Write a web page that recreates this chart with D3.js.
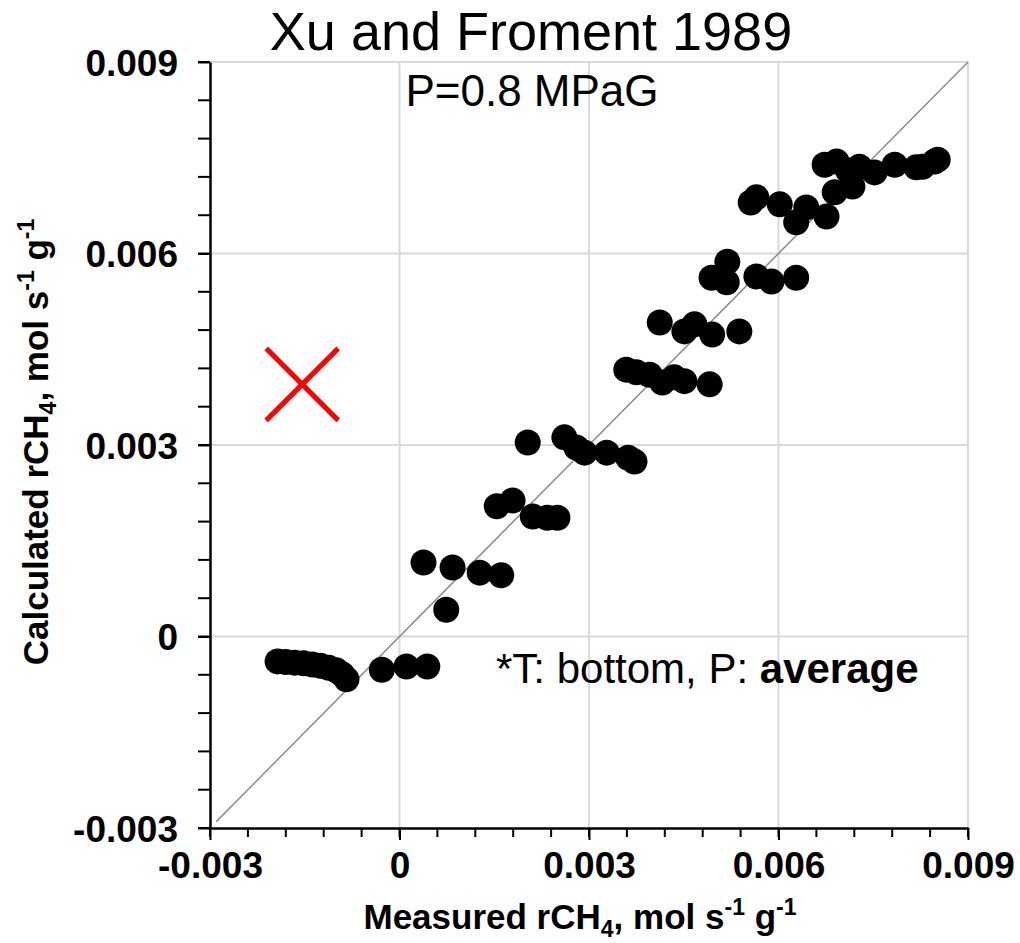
<!DOCTYPE html>
<html>
<head>
<meta charset="utf-8">
<script src="https://cdn.jsdelivr.net/npm/d3@7"></script>
<style>
  body { margin: 0; background: #fff; }
  svg { font-family: "Liberation Sans", Arial, sans-serif; }
</style>
</head>
<body>
<svg id="chart" width="1020" height="943"></svg>
<script>
// measured vs calculated rCH4 (mol s-1 g-1)
const measured = [
  -0.00193, -0.00180, -0.00166, -0.00152, -0.00138, -0.00125, -0.00112, -0.00100, -0.00091, -0.00084,
  -0.00028, 0.00011, 0.00044,
  0.00038, 0.00084, 0.00127, 0.00161, 0.00074,
  0.00154, 0.00179, 0.00211, 0.00234, 0.00250,
  0.00203, 0.00261, 0.00280, 0.00293, 0.00328, 0.00362, 0.00372,
  0.00359, 0.00375, 0.00396, 0.00416, 0.00435, 0.00451, 0.00491,
  0.00412, 0.00451, 0.00467, 0.00495, 0.00538,
  0.00494, 0.00519, 0.00518, 0.00565, 0.00589, 0.00628,
  0.00556, 0.00565, 0.00602, 0.00628, 0.00644, 0.00676, 0.00689,
  0.00673, 0.00692, 0.00710, 0.00717, 0.00728, 0.00752, 0.00784, 0.00818, 0.00828, 0.00847, 0.00852
];
const calculated = [
  -0.00039, -0.00040, -0.00041, -0.00042, -0.00044, -0.00046, -0.00049, -0.00053, -0.00059, -0.00067,
  -0.00052, -0.00047, -0.00047,
  0.00116, 0.00108, 0.00100, 0.00096, 0.00042,
  0.00204, 0.00213, 0.00188, 0.00186, 0.00186,
  0.00304, 0.00312, 0.00296, 0.00288, 0.00288, 0.00280, 0.00274,
  0.00418, 0.00414, 0.00410, 0.00398, 0.00406, 0.00400, 0.00395,
  0.00492, 0.00478, 0.00489, 0.00473, 0.00478,
  0.00562, 0.00587, 0.00555, 0.00564, 0.00556, 0.00562,
  0.00680, 0.00688, 0.00677, 0.00649, 0.00672, 0.00658, 0.00696,
  0.00739, 0.00744, 0.00730, 0.00705, 0.00736, 0.00727, 0.00739, 0.00735, 0.00736, 0.00744, 0.00747
];

// excluded case marker
const crossX = [-0.00154];
const crossY = [0.00395];

const majorTicks = [-0.003, 0, 0.003, 0.006, 0.009];
const tickLabels = ["-0.003", "0", "0.003", "0.006", "0.009"];
const minorTicks = d3.range(-0.003, 0.00901, 0.0006);
const domain = [-0.003, 0.009];
const parityLine = [-0.0029, 0.009];

const svg = d3.select('#chart');
const plotLeft = 210, plotRight = 968, plotTop = 62, plotBottom = 828;

const x = d3.scaleLinear().domain(domain).range([plotLeft, plotRight]);
const y = d3.scaleLinear().domain(domain).range([plotBottom, plotTop]);

// gridlines
const grid = svg.append('g').attr('stroke', '#d9d9d9').attr('stroke-width', 2);
grid.selectAll('.gx').data(majorTicks.slice(1)).enter().append('line')
    .attr('x1', d => x(d)).attr('x2', d => x(d))
    .attr('y1', plotTop).attr('y2', plotBottom);
grid.selectAll('.gy').data(majorTicks.slice(1)).enter().append('line')
    .attr('x1', plotLeft).attr('x2', plotRight)
    .attr('y1', d => y(d)).attr('y2', d => y(d));

// 1:1 line
svg.append('line')
    .attr('x1', x(parityLine[0])).attr('y1', y(parityLine[0]))
    .attr('x2', x(parityLine[1])).attr('y2', y(parityLine[1]))
    .attr('stroke', '#8c8c8c').attr('stroke-width', 1.5);

// points
svg.append('g').selectAll('circle')
    .data(measured.map((m, i) => [m, calculated[i]]))
    .enter().append('circle')
    .attr('cx', d => x(d[0]))
    .attr('cy', d => y(d[1]))
    .attr('r', 13)
    .attr('fill', '#000');

// red cross
const cs = 36;
crossX.forEach((cx, i) => {
    const px = x(cx), py = y(crossY[i]);
    svg.append('path')
        .attr('d', `M${px - cs},${py - cs}L${px + cs},${py + cs}M${px - cs},${py + cs}L${px + cs},${py - cs}`)
        .attr('stroke', '#ff0000').attr('stroke-width', 5).attr('fill', 'none');
});

// axes
const xAxis = d3.axisBottom(x).tickValues(majorTicks).tickSize(12).tickPadding(12)
    .tickFormat((d, i) => tickLabels[i]).tickSizeOuter(0);
const yAxis = d3.axisLeft(y).tickValues(majorTicks).tickSize(12).tickPadding(20)
    .tickFormat((d, i) => tickLabels[i]).tickSizeOuter(0);

const gx = svg.append('g').attr('transform', `translate(0,${plotBottom})`).call(xAxis);
const gy = svg.append('g').attr('transform', `translate(${plotLeft},0)`).call(yAxis);

// minor ticks
gx.selectAll('.minor').data(minorTicks).enter().append('line')
    .attr('x1', d => x(d)).attr('x2', d => x(d))
    .attr('y1', 0).attr('y2', 9).attr('stroke', '#000').attr('stroke-width', 2);
gy.selectAll('.minor').data(minorTicks).enter().append('line')
    .attr('y1', d => y(d)).attr('y2', d => y(d))
    .attr('x1', 0).attr('x2', -12).attr('stroke', '#000').attr('stroke-width', 2);

[gx, gy].forEach(g => {
    g.select('.domain').attr('stroke', '#000').attr('stroke-width', 2.5);
    g.selectAll('.tick line').attr('stroke', '#000').attr('stroke-width', 2);
    g.selectAll('.tick text')
        .attr('font-family', '"Liberation Sans", Arial, sans-serif')
        .attr('font-size', 37).attr('font-weight', 'bold').attr('fill', '#000');
});
gx.selectAll('.tick text').attr('dy', '0.71em');
gy.selectAll('.tick text').attr('dy', '0.36em');

// axis titles with sub/superscripts
function unitLabel(sel, prefix) {
    sel.append('tspan').text(prefix + ' rCH');
    sel.append('tspan').text('4').attr('font-size', 23).attr('dy', 8);
    sel.append('tspan').text(', mol s').attr('dy', -8);
    sel.append('tspan').text('-1').attr('font-size', 23).attr('dy', -14);
    sel.append('tspan').text(' g').attr('dy', 14);
    sel.append('tspan').text('-1').attr('font-size', 23).attr('dy', -14);
}

const xt = svg.append('text')
    .attr('x', 580).attr('y', 929)
    .attr('text-anchor', 'middle')
    .attr('font-size', 35).attr('font-weight', 'bold');
unitLabel(xt, 'Measured');

const yt = svg.append('text')
    .attr('transform', 'translate(48,442) rotate(-90)')
    .attr('text-anchor', 'middle')
    .attr('font-size', 35).attr('font-weight', 'bold');
unitLabel(yt, 'Calculated');

// titles
svg.append('text')
    .attr('x', 531).attr('y', 50)
    .attr('text-anchor', 'middle')
    .attr('font-size', 54)
    .text('Xu and Froment 1989');

svg.append('text')
    .attr('x', 532).attr('y', 106)
    .attr('text-anchor', 'middle')
    .attr('font-size', 44)
    .text('P=0.8 MPaG');

const note = svg.append('text')
    .attr('x', 496).attr('y', 683)
    .attr('font-size', 42);
note.append('tspan').text('*T: bottom, P: ');
note.append('tspan').text('average').attr('font-weight', 'bold');
</script>
</body>
</html>
